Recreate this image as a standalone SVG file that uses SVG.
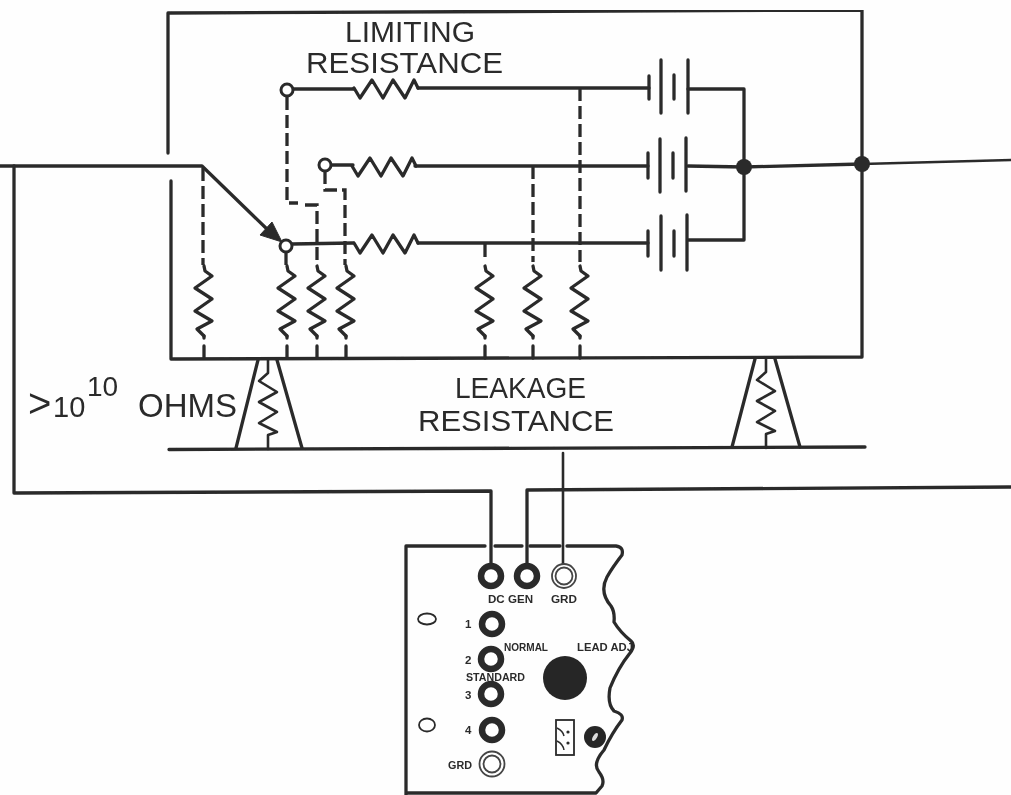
<svg xmlns="http://www.w3.org/2000/svg" width="1011" height="795" viewBox="0 0 1011 795">
<style>
.w{fill:none;stroke:#2b2b2b;stroke-width:3.3;stroke-linecap:round;stroke-linejoin:round}
.t{stroke-width:2.6}
.d{fill:none;stroke:#2b2b2b;stroke-width:3.3;stroke-dasharray:13 5}
.p{fill:none;stroke:#2b2b2b;stroke-width:3.3;stroke-linecap:round}
.j{fill:#fff;stroke:#2b2b2b;stroke-width:6.5}
.g{fill:#fff;stroke:#444;stroke-width:1.8}
.l{font-family:"Liberation Sans",Arial,sans-serif;fill:#2b2b2b;font-size:29px}
.s{font-family:"Liberation Sans",Arial,sans-serif;fill:#2b2b2b;font-size:11.5px;font-weight:bold}
</style>
<defs>
<filter id="soft" x="0" y="0" width="100%" height="100%"><feGaussianBlur stdDeviation="0.35"/></filter>
<path id="rh" class="w" d="M0 0L6 10L18 -8L29 10L39 -8L51 10L60 -8L64 0"/>
<path id="rv" class="w" d="M0 0L1 5L8 10L-9 22L8 33L-9 45L8 55L-7 63L0 70"/>
<path id="rt" class="w t" d="M0 0V14L-9 22L9 33L-9 43L9 53L-9 64L9 73L0 76V90"/>
</defs>
<rect width="1011" height="795" fill="#fefefe"/>
<g filter="url(#soft)">
<g id="connectors">
<path class="w" d="M168 153V13L862 10V357L171 359V181"/>
<path class="w" d="M0 166H202L270 232"/>
<path class="w" d="M14 166V493L491 491V570"/>
<path class="w" d="M527 570V490L1011 487"/>
<path class="w t" d="M563 453V564"/>
<path class="w" d="M744 167L862 164"/>
<path class="w t" d="M862 164L1011 160"/>
<path class="w" d="M688 89H744V240H688"/>
<path class="w" d="M688 166L744 167"/>
<path class="w" d="M169 449.5L865 447"/>
<path class="w" d="M293 89H354M418 88H649"/>
<path class="w" d="M331 165H353M415 166H648"/>
<path class="w" d="M292 244L353 243M418 243H648"/>
<path class="d" d="M203 168V265"/>
<path class="d" d="M287 97V203H298"/>
<path class="d" d="M305 205H317V265"/>
<path class="d" d="M325 171V190H345V265"/>
<path class="d" d="M286 252V265"/>
<path class="d" d="M533 166V262"/>
<path class="d" d="M580 88V262"/>
<path class="d" d="M485 244V262"/>
<path class="w" d="M204 338V336M204 346V358M287 338V336M287 346V358M317 338V336M317 346V358M346 338V336M346 346V358M485 346V358M533 346V358M580 346V358M485 336V338M533 336V338M580 336V338"/>
</g>
<polygon points="282,242 272,222 260,235" fill="#2b2b2b" stroke="#2b2b2b" stroke-width="1"/>
<g id="limiting-resistors">
<use href="#rh" x="354" y="88"/>
<use href="#rh" x="352" y="166"/>
<use href="#rh" x="354" y="243"/>
</g>
<g id="leakage-resistors">
<use href="#rv" x="204" y="266"/>
<use href="#rv" x="287" y="266"/>
<use href="#rv" x="317" y="266"/>
<use href="#rv" x="346" y="266"/>
<use href="#rv" x="485" y="266"/>
<use href="#rv" x="533" y="266"/>
<use href="#rv" x="580" y="266"/>
</g>
<g id="switch-top"><circle cx="287" cy="90" r="6" fill="#fff" stroke="#2b2b2b" stroke-width="3"/></g>
<g id="switch-mid"><circle cx="325" cy="165" r="6" fill="#fff" stroke="#2b2b2b" stroke-width="3"/></g>
<g id="switch-low"><circle cx="286" cy="246" r="6" fill="#fff" stroke="#2b2b2b" stroke-width="3"/></g>
<g id="battery-top"><path class="p" d="M649 76V99M661 60V113M674 75V99M688 60V113"/></g>
<g id="battery-mid"><path class="p" d="M648 153V178M660 139V192M673 153V178M686 138V191"/></g>
<g id="battery-low"><path class="p" d="M648 231V256M661 216V270M674 231V256M687 215V270"/></g>
<g id="node-a"><circle cx="744" cy="167" r="8" fill="#2b2b2b"/></g>
<g id="node-b"><circle cx="862" cy="164" r="8" fill="#2b2b2b"/></g>
<g id="standoff-left">
<path class="w" d="M258 360L236 448M277 360L302 448"/>
<use href="#rt" x="268" y="359"/>
</g>
<g id="standoff-right">
<path class="w" d="M755 359L732 447M775 359L800 447"/>
<use href="#rt" x="766" y="358"/>
</g>
<g id="labels">
<text class="l" x="345" y="42" textLength="130" lengthAdjust="spacingAndGlyphs">LIMITING</text>
<text class="l" x="306" y="73" textLength="197" lengthAdjust="spacingAndGlyphs">RESISTANCE</text>
<text class="l" x="455" y="398" textLength="131" lengthAdjust="spacingAndGlyphs">LEAKAGE</text>
<text class="l" x="418" y="431" textLength="196" lengthAdjust="spacingAndGlyphs">RESISTANCE</text>
<text class="l" x="28" y="417" style="font-size:40px">&gt;</text>
<text class="l" x="53" y="417" style="font-size:29px">10</text>
<text class="l" x="87" y="396" style="font-size:28px">10</text>
<text class="l" x="138" y="417" style="font-size:34px" textLength="99" lengthAdjust="spacingAndGlyphs">OHMS</text>
</g>
<g id="panel">
<path class="w" d="M406 795V546H485M495 546H522M530 546H560M567 546H616Q624 547 622 555Q612 568 607 577Q599 592 611 606Q615 612 614 622Q620 632 631 641Q636 645 630 653Q618 668 610 688Q607 704 614 711Q624 714 622 720Q612 733 604 750Q592 764 599 772Q605 780 602 786L596 793H406"/>
<ellipse class="g" cx="427" cy="619" rx="9" ry="5.5" style="stroke:#2b2b2b"/>
<ellipse class="g" cx="427" cy="725" rx="8" ry="6.5" style="stroke:#2b2b2b"/>
<circle class="j" cx="491" cy="576" r="10"/>
<circle class="j" cx="527" cy="576" r="10"/>
<circle class="g" cx="564" cy="576" r="12"/><circle class="g" cx="564" cy="576" r="8.5"/>
<circle class="j" cx="492" cy="624" r="10"/>
<circle class="j" cx="491" cy="659" r="10"/>
<circle class="j" cx="491" cy="694" r="10"/>
<circle class="j" cx="492" cy="730" r="10"/>
<circle class="g" cx="492" cy="764" r="12.5"/><circle class="g" cx="492" cy="764" r="8.5"/>
<circle cx="565" cy="678" r="22" fill="#262626"/>
<circle cx="595" cy="737" r="11" fill="#262626"/>
<ellipse cx="595" cy="737" rx="2" ry="4.5" fill="#ddd" transform="rotate(30 595 737)"/>
<rect x="556" y="720" width="18" height="35" fill="none" stroke="#2b2b2b" stroke-width="1.8"/>
<path d="M557 728Q563 731 564 736M557 741Q563 744 564 750" fill="none" stroke="#2b2b2b" stroke-width="1.5"/>
<circle cx="568" cy="732" r="1.6" fill="#2b2b2b"/><circle cx="568" cy="743" r="1.6" fill="#2b2b2b"/>
<text class="s" x="488" y="603" textLength="45" lengthAdjust="spacingAndGlyphs">DC GEN</text>
<text class="s" x="551" y="603" textLength="26" lengthAdjust="spacingAndGlyphs">GRD</text>
<text class="s" x="465" y="628">1</text>
<text class="s" x="465" y="664">2</text>
<text class="s" x="465" y="699">3</text>
<text class="s" x="465" y="734">4</text>
<text class="s" x="504" y="651" textLength="44" lengthAdjust="spacingAndGlyphs" style="font-size:10px">NORMAL</text>
<text class="s" x="577" y="651" textLength="56" lengthAdjust="spacingAndGlyphs" style="font-size:10px">LEAD ADJ</text>
<text class="s" x="466" y="681" textLength="59" lengthAdjust="spacingAndGlyphs" style="font-size:10px">STANDARD</text>
<text class="s" x="448" y="769" textLength="24" lengthAdjust="spacingAndGlyphs">GRD</text>
</g>
</g>
</svg>
